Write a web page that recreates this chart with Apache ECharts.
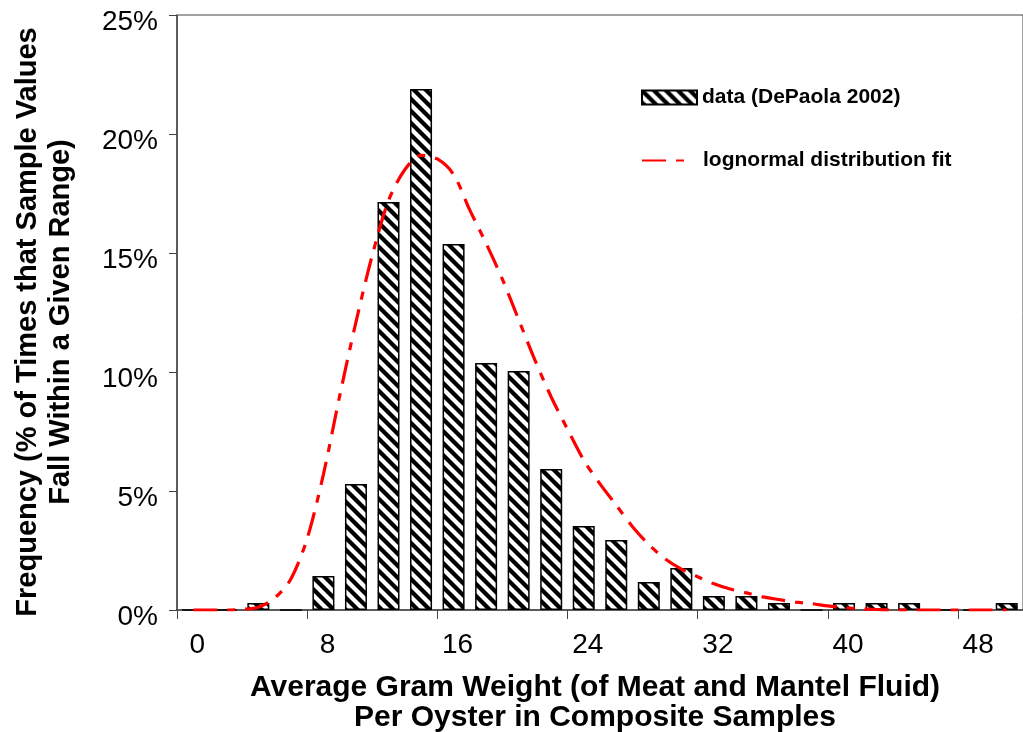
<!DOCTYPE html>
<html>
<head>
<meta charset="utf-8">
<title>Oyster gram weight frequency</title>
<script src="https://cdn.jsdelivr.net/npm/echarts@6/dist/echarts.min.js"></script>
<style>
    html, body {margin: 0; padding: 0; background: #fff;}
    #chart {width: 1023px; height: 732px;}
</style>
</head>
<body>
<div id="chart"></div>
<script>
    // histogram bins (gram weight), every 2 g
    var binNames = ['0','2','4','6','8','10','12','14','16','18','20','22','24','26','28','30','32','34','36','38','40','42','44','46','48','50'];
    // frequency in % per bin (DePaola 2002)
    var binFreq = [0, 0, 0.29, 0, 1.43, 5.29, 17.14, 21.89, 15.38, 10.38, 10.04, 5.92, 3.53, 2.94, 1.18, 1.76, 0.59, 0.59, 0.29, 0, 0.29, 0.29, 0.29, 0, 0, 0.29];
    // lognormal fit at each gram
    var fitX = [0,1,2,3,4,5,6,7,8,9,10,11,12,13,14,15,16,17,18,19,20,21,22,23,24,25,26,27,28,29,30,31,32,33,34,35,36,37,38,39,40,41,42,43,44,45,46,47,48,49,50];
    var fitY = [0, 0, 0, 0.03, 0.12, 0.5, 1.3, 3.0, 5.7, 9.0, 12.1, 14.9, 17.2, 18.5, 19.1, 18.95, 18.3, 16.8, 15.4, 13.9, 12.2, 10.5, 8.95, 7.6, 6.3, 5.3, 4.4, 3.5, 2.75, 2.15, 1.72, 1.4, 1.1, 0.88, 0.72, 0.55, 0.44, 0.33, 0.27, 0.17, 0.1, 0.05, 0.02, 0, 0, 0, 0, 0, 0, 0, 0];
    var yTicks = [0, 5, 10, 15, 20, 25];

    var fontName = '"Liberation Sans", Arial, sans-serif';

    // black / white diagonal hatching for the bars
    function hatch() {
        var s = 12;
        var c = document.createElement('canvas');
        c.width = s;
        c.height = s;
        var g = c.getContext('2d');
        g.fillStyle = '#fff';
        g.fillRect(0, 0, s, s);
        g.strokeStyle = '#000';
        g.lineWidth = 4.2;
        [-s, 0, s].forEach(function (o) {
            g.beginPath();
            g.moveTo(o - 2, -2);
            g.lineTo(o + s + 2, s + 2);
            g.stroke();
        });
        return c;
    }

    var fitData = [];
    for (var i = 0; i < fitX.length; i++) {
        fitData.push([fitX[i], fitY[i]]);
    }

    var chart = echarts.init(document.getElementById('chart'));
    var option = {
        animation: false,
        backgroundColor: '#fff',
        textStyle: {fontFamily: fontName, color: '#000'},
        grid: {
            left: 177,
            top: 15,
            width: 853,
            height: 595,
            show: true,
            borderColor: '#444',
            borderWidth: 1
        },
        legend: [
            {
                data: ['data (DePaola 2002)'],
                left: 636,
                top: 82,
                icon: 'rect',
                itemWidth: 55,
                itemHeight: 14,
                textStyle: {fontFamily: fontName, fontWeight: 'bold', fontSize: 21, color: '#000'}
            },
            {
                data: ['lognormal distribution fit'],
                left: 636,
                top: 145,
                itemWidth: 46,
                itemHeight: 14,
                itemStyle: {opacity: 0},
                lineStyle: {opacity: 1},
                textStyle: {fontFamily: fontName, fontWeight: 'bold', fontSize: 21, color: '#000', padding: [0, 0, 0, 10]}
            }
        ],
        xAxis: [
            {
                type: 'category',
                data: binNames,
                boundaryGap: true,
                axisLine: {lineStyle: {color: '#444', width: 1.5}},
                axisTick: {show: true, interval: 3, length: 9, lineStyle: {color: '#444'}},
                axisLabel: {
                    interval: 3,
                    margin: 21,
                    fontSize: 28,
                    color: '#000',
                    fontFamily: fontName,
                    padding: [0, 0, 0, 8]
                },
                splitLine: {show: false}
            },
            {
                // hidden value axis for the fitted curve, same span as the bins
                type: 'value',
                min: -1,
                max: 51,
                show: false
            }
        ],
        yAxis: {
            type: 'value',
            min: yTicks[0],
            max: yTicks[yTicks.length - 1],
            interval: 5,
            axisLine: {show: true, onZero: false, lineStyle: {color: '#444', width: 1.5}},
            axisTick: {show: true, length: 8, lineStyle: {color: '#444'}},
            axisLabel: {
                formatter: '{value}%',
                fontSize: 28,
                color: '#000',
                fontFamily: fontName,
                margin: 19,
                verticalAlign: 'top',
                lineHeight: 14
            },
            splitLine: {show: false}
        },
        graphic: [
            {
                type: 'text',
                x: 44,
                y: 322,
                rotation: Math.PI / 2,
                style: {
                    text: 'Frequency (% of Times that Sample Values\nFall Within a Given Range)',
                    font: 'bold 29px ' + fontName,
                    fill: '#000',
                    align: 'center',
                    verticalAlign: 'middle',
                    lineHeight: 33
                }
            },
            {
                type: 'text',
                x: 595,
                y: 703,
                style: {
                    text: 'Average Gram Weight (of Meat and Mantel Fluid)\nPer Oyster in Composite Samples',
                    font: 'bold 30px ' + fontName,
                    fill: '#000',
                    align: 'center',
                    verticalAlign: 'middle',
                    lineHeight: 30
                }
            }
        ],
        series: [
            {
                name: 'data (DePaola 2002)',
                type: 'bar',
                xAxisIndex: 0,
                barWidth: 22,
                itemStyle: {
                    color: {image: hatch(), repeat: 'repeat'},
                    borderColor: '#000',
                    borderWidth: 1.5
                },
                data: binFreq
            },
            {
                name: 'lognormal distribution fit',
                type: 'line',
                xAxisIndex: 1,
                smooth: 0.3,
                symbol: 'none',
                lineStyle: {color: '#ff0000', width: 3.2, type: [24, 10, 8, 10]},
                itemStyle: {color: '#ff0000'},
                data: fitData
            }
        ]
    };
    chart.setOption(option);
</script>
</body>
</html>
